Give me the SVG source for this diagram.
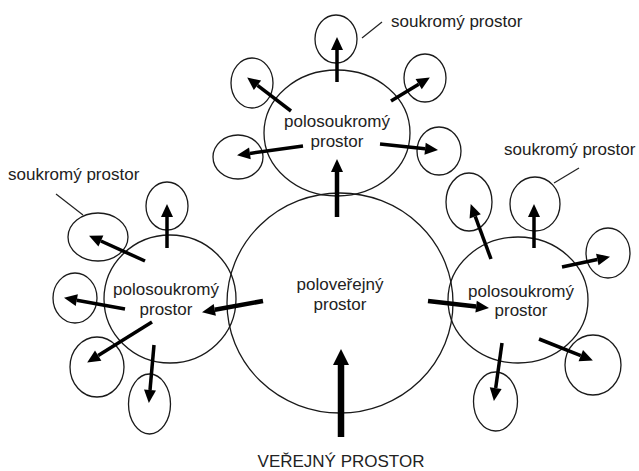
<svg xmlns="http://www.w3.org/2000/svg" width="639" height="471" viewBox="0 0 639 471">
<style>
.c{fill:none;stroke:#1a1a1a;stroke-width:1.3}
.a{stroke:#000;stroke-width:3.5;fill:none}
.a2{stroke:#000;stroke-width:4.5;fill:none}
.l{stroke:#222;stroke-width:1.2;fill:none}
text{font-family:"Liberation Sans",Arial,Helvetica,sans-serif;font-size:17px;fill:#222}
.m{text-anchor:middle}
</style>
<defs>
<marker id="ah" markerUnits="userSpaceOnUse" markerWidth="14" markerHeight="12" refX="0" refY="6" orient="auto" overflow="visible">
<path d="M0,0 L13,6 L0,12 z" fill="#000"/>
</marker>
<marker id="ahb" markerUnits="userSpaceOnUse" markerWidth="16" markerHeight="16" refX="0" refY="8" orient="auto" overflow="visible">
<path d="M0,0 L16,8 L0,16 z" fill="#000"/>
</marker>
</defs>
<rect width="639" height="471" fill="#fff"/>

<g id="public-space">
<text class="m" x="341" y="467">VEŘEJNÝ PROSTOR</text>
</g>

<g id="semi-public">
<ellipse class="c" cx="340" cy="303" rx="113" ry="110"/>
<text class="m" x="340" y="290">poloveřejný</text>
<text class="m" x="340" y="310">prostor</text>
</g>

<g id="semi-private-top">
<ellipse class="c" cx="337" cy="133" rx="73" ry="63"/>
<text class="m" x="337" y="127">polosoukromý</text>
<text class="m" x="337" y="147">prostor</text>
</g>
<g id="semi-private-left">
<ellipse class="c" cx="170" cy="299" rx="66" ry="64"/>
<text class="m" x="166" y="295">polosoukromý</text>
<text class="m" x="166" y="315">prostor</text>
</g>
<g id="semi-private-right">
<ellipse class="c" cx="518" cy="300" rx="70" ry="63"/>
<text class="m" x="521" y="297">polosoukromý</text>
<text class="m" x="521" y="316">prostor</text>
</g>

<g id="private-top">
<ellipse class="c" cx="336" cy="39" rx="21" ry="24"/>
<ellipse class="c" cx="252" cy="83" rx="21" ry="25"/>
<ellipse class="c" cx="425" cy="78" rx="21" ry="24"/>
<ellipse class="c" cx="238" cy="157" rx="25" ry="22"/>
<ellipse class="c" cx="439" cy="151" rx="22" ry="24"/>
<line class="l" x1="362" y1="38" x2="382" y2="22"/>
<text x="391" y="27">soukromý prostor</text>
</g>
<g id="private-left">
<ellipse class="c" cx="167" cy="206" rx="21" ry="24"/>
<ellipse class="c" cx="98" cy="237" rx="30" ry="24"/>
<ellipse class="c" cx="75" cy="298" rx="22" ry="25"/>
<ellipse class="c" cx="97" cy="367" rx="27" ry="30"/>
<ellipse class="c" cx="149.5" cy="404" rx="21" ry="30"/>
<line class="l" x1="56" y1="194" x2="83" y2="215"/>
<text x="8" y="180">soukromý prostor</text>
</g>
<g id="private-right">
<ellipse class="c" cx="469" cy="202" rx="23" ry="29"/>
<ellipse class="c" cx="535" cy="204" rx="25" ry="27"/>
<ellipse class="c" cx="608" cy="253" rx="22" ry="25"/>
<ellipse class="c" cx="593" cy="365" rx="28" ry="30"/>
<ellipse class="c" cx="495.5" cy="401.5" rx="22" ry="29.5"/>
<line class="l" x1="554" y1="183" x2="579" y2="168"/>
<text x="504" y="155">soukromý prostor</text>
</g>

<g id="connectors">
<line x1="341" y1="437" x2="341" y2="365" stroke="#000" stroke-width="6.5" marker-end="url(#ahb)"/>
<line class="a2" x1="337" y1="217" x2="337" y2="172" marker-end="url(#ah)"/>
<line class="a2" x1="263" y1="301" x2="214.8" y2="309.8" marker-end="url(#ah)"/>
<line class="a2" x1="428" y1="301" x2="476.1" y2="306.6" marker-end="url(#ah)"/>

<line class="a" x1="337" y1="82" x2="337" y2="50" marker-end="url(#ah)"/>
<line class="a" x1="291" y1="111" x2="257.5" y2="85.3" marker-end="url(#ah)"/>
<line class="a" x1="391" y1="101" x2="418.7" y2="84.2" marker-end="url(#ah)"/>
<line class="a" x1="303" y1="146" x2="249.9" y2="153.4" marker-end="url(#ah)"/>
<line class="a" x1="380" y1="144" x2="425.1" y2="148.7" marker-end="url(#ah)"/>

<line class="a" x1="167" y1="248" x2="167" y2="217" marker-end="url(#ah)"/>
<line class="a" x1="145" y1="261" x2="100.9" y2="241" marker-end="url(#ah)"/>
<line class="a" x1="125" y1="309" x2="76.8" y2="300.2" marker-end="url(#ah)"/>
<line class="a" x1="152" y1="322" x2="98.2" y2="355.6" marker-end="url(#ah)"/>
<line class="a" x1="154" y1="345" x2="150" y2="390" marker-end="url(#ah)"/>

<line class="a" x1="491" y1="259" x2="475.2" y2="216.3" marker-end="url(#ah)"/>
<line class="a" x1="534" y1="248" x2="534" y2="217" marker-end="url(#ah)"/>
<line class="a" x1="562" y1="267" x2="597.3" y2="259.5" marker-end="url(#ah)"/>
<line class="a" x1="539" y1="339" x2="580.8" y2="355.6" marker-end="url(#ah)"/>
<line class="a" x1="502" y1="343" x2="495.7" y2="388.1" marker-end="url(#ah)"/>
</g>
</svg>
